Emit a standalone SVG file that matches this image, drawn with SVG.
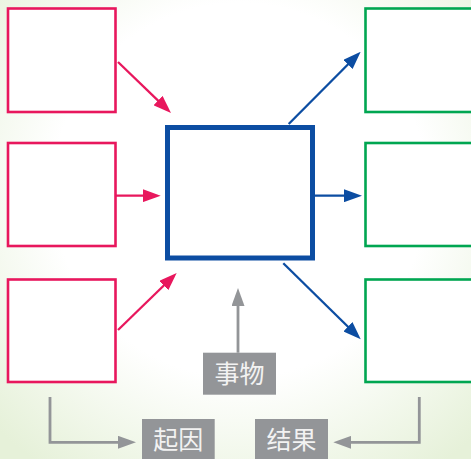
<svg xmlns="http://www.w3.org/2000/svg" width="471" height="459" viewBox="0 0 471 459">
<style>
.cause{fill:#fff;stroke:#e8175d;stroke-width:2.6}
.effect{fill:#fff;stroke:#00a651;stroke-width:2.6}
.thing{fill:#fff;stroke:#0c4da2;stroke-width:5}
.red{stroke:#e8175d;stroke-width:2.3;fill:none}
.blue{stroke:#0c4da2;stroke-width:2.3;fill:none}
.gray{stroke:#939598;stroke-width:2.8;fill:none}
.tag{fill:#939598}
.lbl{font-family:"Noto Sans CJK SC","Noto Sans CJK TC",sans-serif;font-size:25px;fill:#f2f2f2;text-anchor:middle}
</style>
<defs>
<radialGradient id="bg" cx="240" cy="190" r="340" gradientUnits="userSpaceOnUse">
<stop offset="0.55" stop-color="#ffffff"/>
<stop offset="1" stop-color="#e6f1d9"/>
</radialGradient>
<marker id="hr" markerUnits="userSpaceOnUse" viewBox="0 0 18 13" refX="8" refY="6.5" markerWidth="18" markerHeight="13" orient="auto"><path d="M0,0 L18,6.5 L0,13 z" fill="#e8175d"/></marker>
<marker id="hb" markerUnits="userSpaceOnUse" viewBox="0 0 18 13" refX="8" refY="6.5" markerWidth="18" markerHeight="13" orient="auto"><path d="M0,0 L18,6.5 L0,13 z" fill="#0c4da2"/></marker>
<marker id="hg" markerUnits="userSpaceOnUse" viewBox="0 0 18 13" refX="8" refY="6.5" markerWidth="18" markerHeight="13" orient="auto"><path d="M0,0 L18,6.5 L0,13 z" fill="#939598"/></marker>
</defs>
<rect x="0" y="0" width="471" height="459" fill="url(#bg)"/>
<g id="cause1"><rect class="cause" x="8" y="8.5" width="107.5" height="103.5"/></g>
<g id="cause2"><rect class="cause" x="8" y="143" width="107.5" height="103"/></g>
<g id="cause3"><rect class="cause" x="8" y="279.5" width="107.5" height="102.5"/></g>
<g id="effect1"><rect class="effect" x="365.5" y="8.5" width="120" height="103.5"/></g>
<g id="effect2"><rect class="effect" x="365.5" y="143" width="120" height="103"/></g>
<g id="effect3"><rect class="effect" x="365.5" y="279.5" width="120" height="102.5"/></g>
<g id="thing"><rect class="thing" x="167.5" y="127.5" width="145" height="130.5"/></g>
<g id="tag-thing"><rect class="tag" x="203" y="352.7" width="73" height="42"/><text class="lbl" x="239.5" y="383">事物</text></g>
<g id="tag-cause"><rect class="tag" x="142" y="419" width="72.7" height="40"/><text class="lbl" x="178.3" y="449">起因</text></g>
<g id="tag-effect"><rect class="tag" x="255" y="419" width="73" height="40"/><text class="lbl" x="291.5" y="449">结果</text></g>
<g id="connectors">
<line class="red" x1="118" y1="62" x2="163.8" y2="106.1" marker-end="url(#hr)"/>
<line class="red" x1="116" y1="195.7" x2="150.7" y2="195.7" marker-end="url(#hr)"/>
<line class="red" x1="118" y1="330" x2="169.5" y2="280" marker-end="url(#hr)"/>
<line class="blue" x1="288.7" y1="124" x2="353.6" y2="58.8" marker-end="url(#hb)"/>
<line class="blue" x1="315" y1="195.7" x2="352" y2="195.7" marker-end="url(#hb)"/>
<line class="blue" x1="283.3" y1="263.3" x2="353.6" y2="332.3" marker-end="url(#hb)"/>
<line class="gray" x1="238" y1="352.7" x2="238" y2="298" marker-end="url(#hg)"/>
<path class="gray" d="M50,397 V442.3 H126" marker-end="url(#hg)"/>
<path class="gray" d="M419.3,397 V442.3 H343.3" marker-end="url(#hg)"/>
</g>
</svg>
